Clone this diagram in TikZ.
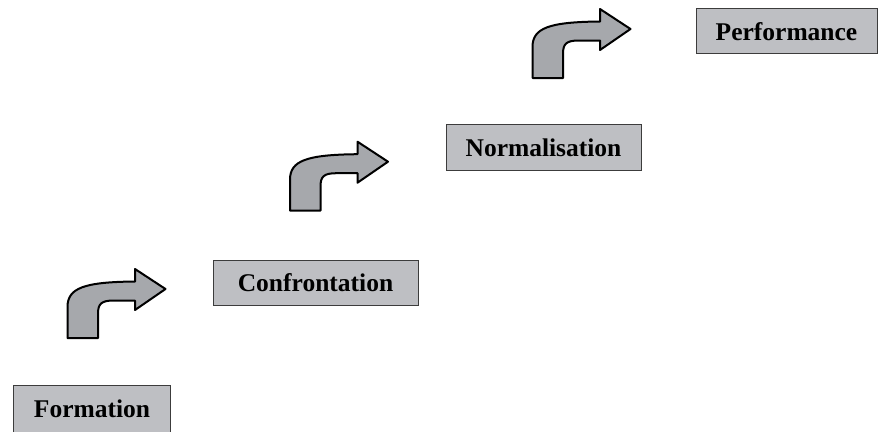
\documentclass[tikz,border=0pt]{standalone}
\usepackage{fontspec}
\setmainfont{Liberation Serif}
\definecolor{boxfill}{RGB}{190,191,195}
\definecolor{boxline}{RGB}{60,60,60}
\definecolor{arrowfill}{RGB}{166,168,172}
\tikzset{
  stagebox/.style={draw=boxline, line width=1pt, fill=boxfill, rectangle,
    inner sep=0pt, font=\fontsize{25.5}{30}\selectfont\bfseries},
  bentarrow/.style={draw=black, line width=2pt, fill=arrowfill, line join=round},
  pics/turnarrow/.style={code={
    \draw[bentarrow] (67.5,338) -- (67.5,307)
      .. controls (67.5,288) and (84,282) .. (135,281.5)
      -- (135,269) -- (165.5,289) -- (135,310) -- (135,300.5)
      -- (114,300.5) .. controls (101,300.5) and (98,304) .. (98,314)
      -- (98,338) -- cycle;
  }}
}
\begin{document}
\begin{tikzpicture}[x=1pt,y=-1pt]
\useasboundingbox (0,0) rectangle (878,431);
\clip (0,0) rectangle (878,431);
\node[stagebox, minimum width=157pt, minimum height=47pt, anchor=north west] (formation) at (13,385) {Formation};
\node[stagebox, minimum width=205pt, minimum height=45pt] (confrontation) at (315.5,282.5) {Confrontation};
\node[stagebox, minimum width=195pt, minimum height=46pt] (normalisation) at (543.5,147.3) {Normalisation};
\node[stagebox, minimum width=181pt, minimum height=45.5pt] (performance) at (786.5,31.2) {Performance};
\pic at (0,0) {turnarrow};
\pic at (222.5,-127.3) {turnarrow};
\pic at (465,-260) {turnarrow};
\end{tikzpicture}
\end{document}
